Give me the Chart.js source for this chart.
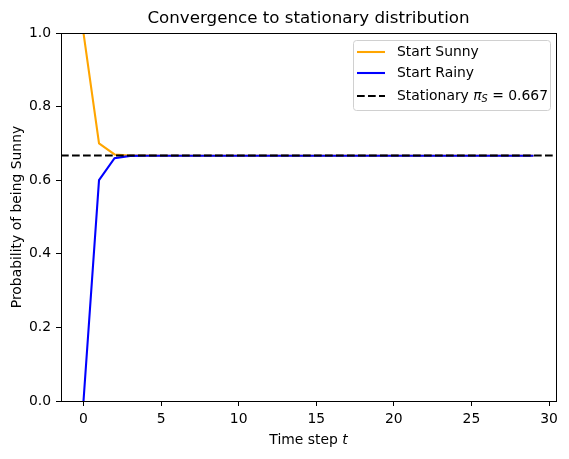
<!DOCTYPE html>
<html><head><meta charset="utf-8">
<script src="https://cdn.jsdelivr.net/npm/chart.js@4"></script>
<style>html,body{margin:0;padding:0;background:#fff}#wrap{width:569px;height:459px}</style>
</head><body><div id="wrap"><canvas id="c" width="569" height="459"></canvas></div>
<script>
const timeSteps = [0,1,2,3,4,5,6,7,8,9,10,11,12,13,14,15,16,17,18,19,20,21,22,23,24,25,26,27,28,29];
const startSunny = [1.0,0.7,0.67,0.667,0.6667,0.66667,0.666667,0.666667,0.666667,0.666667,0.666667,0.666667,0.666667,0.666667,0.666667,0.666667,0.666667,0.666667,0.666667,0.666667,0.666667,0.666667,0.666667,0.666667,0.666667,0.666667,0.666667,0.666667,0.666667,0.666667];
const startRainy = [0.0,0.6,0.66,0.666,0.6666,0.66666,0.666666,0.666667,0.666667,0.666667,0.666667,0.666667,0.666667,0.666667,0.666667,0.666667,0.666667,0.666667,0.666667,0.666667,0.666667,0.666667,0.666667,0.666667,0.666667,0.666667,0.666667,0.666667,0.666667,0.666667];
const stationary = 0.667;
const xRange = [-1.45, 30.45];
const xTickValues = [0,5,10,15,20,25,30];
const yTickValues = [0.0,0.2,0.4,0.6,0.8,1.0];
const titleText = 'Convergence to stationary distribution';
const yLabel = 'Probability of being Sunny';

const FONT = "'DejaVu Sans', sans-serif";
const toXY = (ys) => ys.map((y,i)=>({x: timeSteps[i], y}));

const frame = {
  id:'frame',
  afterDraw(chart){
    const {ctx, chartArea:a} = chart;
    ctx.save();
    ctx.strokeStyle='#000'; ctx.lineWidth=1;
    ctx.strokeRect(Math.round(a.left)+0.5, Math.round(a.top)+0.5, Math.round(a.right-a.left), Math.round(a.bottom-a.top));
    // title
    ctx.fillStyle='#000';
    ctx.font = "16.7px " + FONT;
    ctx.textAlign='center'; ctx.textBaseline='alphabetic';
    ctx.fillText(titleText, (a.left+a.right)/2, 23);
    // x label
    ctx.font = "13.9px " + FONT;
    const p1 = 'Time step ', p2 = 't';
    const w1 = ctx.measureText(p1).width;
    ctx.font = "italic 13.9px " + FONT;
    const w2 = ctx.measureText(p2).width;
    let x0 = (a.left+a.right)/2 - (w1+w2)/2;
    ctx.textAlign='left';
    ctx.font = "13.9px " + FONT;
    ctx.fillText(p1, x0, 444);
    ctx.font = "italic 13.9px " + FONT;
    ctx.fillText(p2, x0+w1, 444);
    // y label
    ctx.save();
    ctx.translate(21, (a.top+a.bottom)/2);
    ctx.rotate(-Math.PI/2);
    ctx.textAlign='center';
    ctx.font = "13.9px " + FONT;
    ctx.fillText(yLabel, 0, 0);
    ctx.restore();
    // legend
    const bx=353.5, by=40.5, bw=197, bh=70;
    ctx.fillStyle='rgba(255,255,255,0.8)';
    ctx.strokeStyle='#d0d0d0';
    ctx.beginPath();
    if (ctx.roundRect) ctx.roundRect(bx,by,bw,bh,3); else ctx.rect(bx,by,bw,bh);
    ctx.fill(); ctx.stroke();
    const ds = chart.data.datasets;
    const rows=[52,73,96];
    ds.forEach((d,i)=>{
      const y=rows[i];
      ctx.strokeStyle=d.borderColor; ctx.lineWidth=2.08;
      ctx.setLineDash(d.borderDash||[]);
      ctx.beginPath(); ctx.moveTo(357,y); ctx.lineTo(385,y); ctx.stroke();
      ctx.setLineDash([]);
      ctx.fillStyle='#000'; ctx.textBaseline='middle'; ctx.textAlign='left';
      ctx.font = "13.9px " + FONT;
      if (i<2) { ctx.fillText(d.label, 397, y); }
      else {
        let x=397;
        const s1='Stationary ';
        ctx.fillText(s1,x,y); x+=ctx.measureText(s1).width;
        ctx.font = "italic 13.9px " + FONT;
        ctx.fillText('π',x,y); x+=ctx.measureText('π').width;
        ctx.font = "italic 9.7px " + FONT;
        ctx.fillText('S',x,y+3); x+=ctx.measureText('S').width;
        ctx.font = "13.9px " + FONT;
        const s3=' = ' + stationary.toFixed(3);
        ctx.fillText(s3,x,y);
      }
    });
    ctx.restore();
  }
};

new Chart(document.getElementById('c'), {
  type:'line',
  data:{ datasets:[
    {label:'Start Sunny', data: toXY(startSunny), borderColor:'#FFA500', borderWidth:2.08, pointRadius:0, tension:0, order:3},
    {label:'Start Rainy', data: toXY(startRainy), borderColor:'#0000FF', borderWidth:2.08, pointRadius:0, tension:0, order:2},
    {label:'Stationary', data: [{x:xRange[0], y:stationary},{x:xRange[1], y:stationary}], borderColor:'#000000', borderWidth:2.08, borderDash:[7.7,3.3], pointRadius:0, order:1}
  ]},
  options:{
    responsive:false, animation:false, devicePixelRatio:1,
    layout:{padding:{top:33, right:13, left:0, bottom:0}},
    plugins:{legend:{display:false}, title:{display:false}, tooltip:{enabled:false}},
    scales:{
      x:{type:'linear', min:xRange[0], max:xRange[1],
        afterBuildTicks(ax){ ax.ticks = xTickValues.map(v=>({value:v})); },
        afterFit(ax){ ax.height = 58; },
        grid:{drawOnChartArea:false, tickLength:5, color:'#000', tickWidth:1},
        border:{display:true, color:'#000'},
        ticks:{color:'#000', font:{family:FONT, size:13.9}, padding:5, maxRotation:0, autoSkip:false, callback:(v)=>String(v)}
      },
      y:{min:0, max:1,
        afterBuildTicks(ax){ ax.ticks = yTickValues.map(v=>({value:v})); },
        afterFit(ax){ ax.width = 61; },
        grid:{drawOnChartArea:false, tickLength:5, color:'#000', tickWidth:1},
        border:{display:true, color:'#000'},
        ticks:{color:'#000', font:{family:FONT, size:13.9}, padding:5, callback:(v)=>Number(v).toFixed(1)}
      }
    }
  },
  plugins:[frame]
});
</script></body></html>
